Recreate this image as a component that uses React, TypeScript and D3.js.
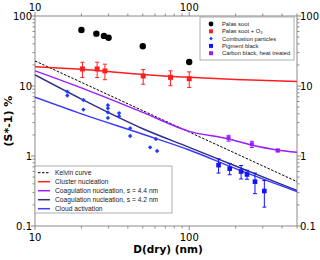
import * as d3 from "d3";

// --- data ---
const palasD = [20, 25, 28, 30, 50, 100];
const palasS = [63, 56, 52, 49, 37, 22];

const ozoneD = [20.3, 25.3, 28.4, 50.3, 75.6, 100];
const ozoneS = [17.5, 17.5, 16.4, 13.9, 13.3, 12.7];
const ozoneErr = [4.3, 4.3, 4.1, 3.3, 3.2, 3.2];

const combD = [16.2, 16.2, 20.6, 20.6, 29.7, 29.7, 29.7, 29.7, 35.1, 35.1, 41.4, 41.4, 55.8, 60.8, 61.9];
const combS = [8.3, 7.3, 6.3, 4.6, 5.3, 4.8, 4.2, 3.5, 4.1, 3.7, 2.5, 1.93, 1.33, 1.75, 1.18];

const pigD = [155, 183, 217, 237, 267, 307];
const pigS = [0.74, 0.66, 0.6, 0.545, 0.43, 0.316];
const pigErr = [0.17, 0.12, 0.13, 0.08, 0.14, 0.13];

const carbD = [180, 255, 375];
const carbS = [1.8, 1.47, 1.2];
const carbErr = [0.17, 0.15, 0.05];

const kelvinD = [10, 100, 500];
const kelvinS = [22.8, 2.2, 0.43];

const clusterD = [10, 20, 50, 100, 200, 500];
const clusterS = [18.9, 17.3, 14.6, 13.3, 12.4, 11.6];

const coag44D = [10, 20, 50, 100, 180, 250, 370, 500];
const coag44S = [16.5, 9.4, 4.2, 2.25, 1.75, 1.45, 1.22, 1.13];

const coag42D = [10, 20, 50, 100, 200, 500];
const coag42S = [14.4, 6.5, 2.45, 1.33, 0.72, 0.32];

const cloudD = [10, 20, 50, 100, 200, 500];
const cloudS = [6.9, 4.0, 2.05, 1.22, 0.66, 0.31];

const xMajor = [10, 100];
const yMajor = [0.1, 1, 10, 100];
const yLabels = ["0.1", "1", "10", "100"];

const W = 320;
const H = 260;
const left = 35, right = 297, top = 16, bottom = 226;

const RED = "#ff1f1f";
const PURPLE = "#9b1cff";
const NAVY = "#2f2f8c";
const BLUE = "#3b3bff";
const PIG = "#1212ff";
const COMB = "#1a3cff";
const AXIS = "#8a8a8a";

export default function App() {
  const x = d3.scaleLog().domain([10, 500]).range([left, right]);
  const y = d3.scaleLog().domain([0.1, 100]).range([bottom, top]);

  const line = (ds: number[], ss: number[]) =>
    d3
      .line<number>()
      .x((_, i) => x(ds[i]))
      .y((_, i) => y(ss[i]))
      .curve(d3.curveMonotoneX)(ds) || "";

  const xMinor: number[] = [];
  [10, 100].forEach((dec) => {
    for (let k = 2; k <= 9; k++) if (dec * k <= 500) xMinor.push(dec * k);
  });
  const yMinor: number[] = [];
  [0.1, 1, 10].forEach((dec) => {
    for (let k = 2; k <= 9; k++) yMinor.push(dec * k);
  });

  const curves = [
    { d: kelvinD, s: kelvinS, c: "#000", w: 1, dash: "2.5,1.5", name: "Kelvin curve" },
    { d: clusterD, s: clusterS, c: RED, w: 1.5, dash: undefined, name: "Cluster nucleation" },
    { d: coag44D, s: coag44S, c: PURPLE, w: 1.5, dash: undefined, name: "Coagulation nucleation, s = 4.4 nm" },
    { d: coag42D, s: coag42S, c: NAVY, w: 1.5, dash: undefined, name: "Coagulation nucleation, s = 4.2 nm" },
    { d: cloudD, s: cloudS, c: BLUE, w: 1.5, dash: undefined, name: "Cloud activation" },
  ];

  const errBar = (cx: number, v: number, e: number, col: string, key: string) => {
    const y1 = y(v + e);
    const y2 = y(Math.max(v - e, 0.101));
    return (
      <g key={key} stroke={col} strokeWidth={1}>
        <line x1={cx} x2={cx} y1={y1} y2={y2} />
        <line x1={cx - 2} x2={cx + 2} y1={y1} y2={y1} />
        <line x1={cx - 2} x2={cx + 2} y1={y2} y2={y2} />
      </g>
    );
  };

  const diamond = (cx: number, cy: number, r: number) =>
    `M${cx},${cy - r}L${cx + r},${cy}L${cx},${cy + r}L${cx - r},${cy}Z`;

  const tickFont = { fontFamily: "DejaVu Sans, sans-serif", fontSize: 10 };

  const legend1 = [
    { t: "Palas soot", m: "circle", c: "#000" },
    { t: "Palas soot + O₃", m: "square", c: RED },
    { t: "Combustion particles", m: "diamond", c: COMB },
    { t: "Pigment black", m: "square", c: PIG },
    { t: "Carbon black, heat treated", m: "square", c: PURPLE },
  ];

  return (
    <div style={{ position: "absolute", left: 0, top: 0 }}>
      <svg width={W} height={H} style={{ display: "block", background: "#fff" }}>
        <defs>
          <clipPath id="plot-clip">
            <rect x={left} y={top} width={right - left} height={bottom - top} />
          </clipPath>
        </defs>

        {/* frame */}
        <rect x={left} y={top} width={right - left} height={bottom - top} fill="none" stroke={AXIS} strokeWidth={1} />

        {/* x ticks top + bottom */}
        {xMajor.map((v) => (
          <g key={"xm" + v}>
            <line x1={x(v)} x2={x(v)} y1={bottom} y2={bottom + 4} stroke={AXIS} />
            <line x1={x(v)} x2={x(v)} y1={top} y2={top - 4} stroke={AXIS} />
            <text x={x(v)} y={bottom + 15} textAnchor="middle" {...tickFont}>{v}</text>
            <text x={x(v)} y={top - 5} textAnchor="middle" {...tickFont}>{v}</text>
          </g>
        ))}
        {xMinor.map((v) => (
          <g key={"xn" + v} stroke={AXIS}>
            <line x1={x(v)} x2={x(v)} y1={bottom} y2={bottom + 2.5} />
            <line x1={x(v)} x2={x(v)} y1={top} y2={top - 2.5} />
          </g>
        ))}

        {/* y ticks left + right */}
        {yMajor.map((v, i) => (
          <g key={"ym" + v}>
            <line x1={left - 4} x2={left} y1={y(v)} y2={y(v)} stroke={AXIS} />
            <line x1={right} x2={right + 4} y1={y(v)} y2={y(v)} stroke={AXIS} />
            <text x={left - 3} y={y(v) + 3.5} textAnchor="end" {...tickFont}>{yLabels[i]}</text>
            <text x={right + 3} y={y(v) + 3.5} textAnchor="start" {...tickFont}>{yLabels[i]}</text>
          </g>
        ))}
        {yMinor.map((v) => (
          <g key={"yn" + v} stroke={AXIS}>
            <line x1={left - 2.5} x2={left} y1={y(v)} y2={y(v)} />
            <line x1={right} x2={right + 2.5} y1={y(v)} y2={y(v)} />
          </g>
        ))}

        {/* axis titles */}
        <text x={168} y={253} textAnchor="middle" fontFamily="DejaVu Sans, sans-serif" fontWeight="bold" fontSize={10.5}>
          D(dry) (nm)
        </text>
        <text
          transform={`translate(12,${121}) rotate(-90)`}
          textAnchor="middle"
          fontFamily="DejaVu Sans, sans-serif"
          fontWeight="bold"
          fontSize={11}
        >
          (S*-1) %
        </text>

        {/* model curves */}
        <g clipPath="url(#plot-clip)" fill="none">
          {curves.map((c) => (
            <path key={c.name} d={line(c.d, c.s)} stroke={c.c} strokeWidth={c.w} strokeDasharray={c.dash} />
          ))}
        </g>

        {/* Palas soot */}
        {palasD.map((d, i) => (
          <circle key={"p" + i} cx={x(d)} cy={y(palasS[i])} r={3.2} fill="#000" />
        ))}

        {/* Palas soot + O3 */}
        {ozoneD.map((d, i) => errBar(x(d), ozoneS[i], ozoneErr[i], RED, "oe" + i))}
        {ozoneD.map((d, i) => (
          <rect key={"o" + i} x={x(d) - 2.5} y={y(ozoneS[i]) - 2.5} width={5} height={5} fill={RED} />
        ))}

        {/* Carbon black, heat treated */}
        {carbD.map((d, i) => errBar(x(d), carbS[i], carbErr[i], PURPLE, "ce" + i))}
        {carbD.map((d, i) => (
          <rect key={"c" + i} x={x(d) - 2} y={y(carbS[i]) - 2} width={4} height={4} fill={PURPLE} />
        ))}

        {/* Pigment black */}
        {pigD.map((d, i) => errBar(x(d), pigS[i], pigErr[i], PIG, "ge" + i))}
        {pigD.map((d, i) => (
          <rect key={"g" + i} x={x(d) - 2.3} y={y(pigS[i]) - 2.3} width={4.6} height={4.6} fill={PIG} />
        ))}

        {/* Combustion particles */}
        {combD.map((d, i) => (
          <path key={"b" + i} d={diamond(x(d), y(combS[i]), 2.2)} fill={COMB} />
        ))}

        {/* legend: data */}
        <rect x={200} y={17} width={94} height={43} fill="#fff" stroke="#9a9a9a" strokeWidth={0.8} />
        {legend1.map((l, i) => {
          const ly = 24 + i * 7.3;
          return (
            <g key={l.t}>
              {l.m === "circle" && <circle cx={211} cy={ly} r={2.4} fill={l.c} />}
              {l.m === "square" && <rect x={209} y={ly - 2} width={4} height={4} fill={l.c} />}
              {l.m === "diamond" && <path d={diamond(211, ly, 1.8)} fill={l.c} />}
              <text x={222} y={ly + 2} fontFamily="Liberation Sans, Arial, sans-serif" fontSize={5.8} fill="#222">
                {l.t}
              </text>
            </g>
          );
        })}

        {/* legend: curves */}
        <rect x={35} y={166} width={137} height={47} fill="#fff" stroke="#9a9a9a" strokeWidth={0.8} />
        {curves.map((c, i) => {
          const ly = 172.7 + i * 9;
          return (
            <g key={"l" + c.name}>
              <line x1={38} x2={50} y1={ly} y2={ly} stroke={c.c} strokeWidth={c.w} strokeDasharray={c.dash} />
              <text x={55} y={ly + 2.3} fontFamily="Liberation Sans, Arial, sans-serif" fontSize={6.7} fill="#222">
                {c.name}
              </text>
            </g>
          );
        })}
      </svg>
    </div>
  );
}
